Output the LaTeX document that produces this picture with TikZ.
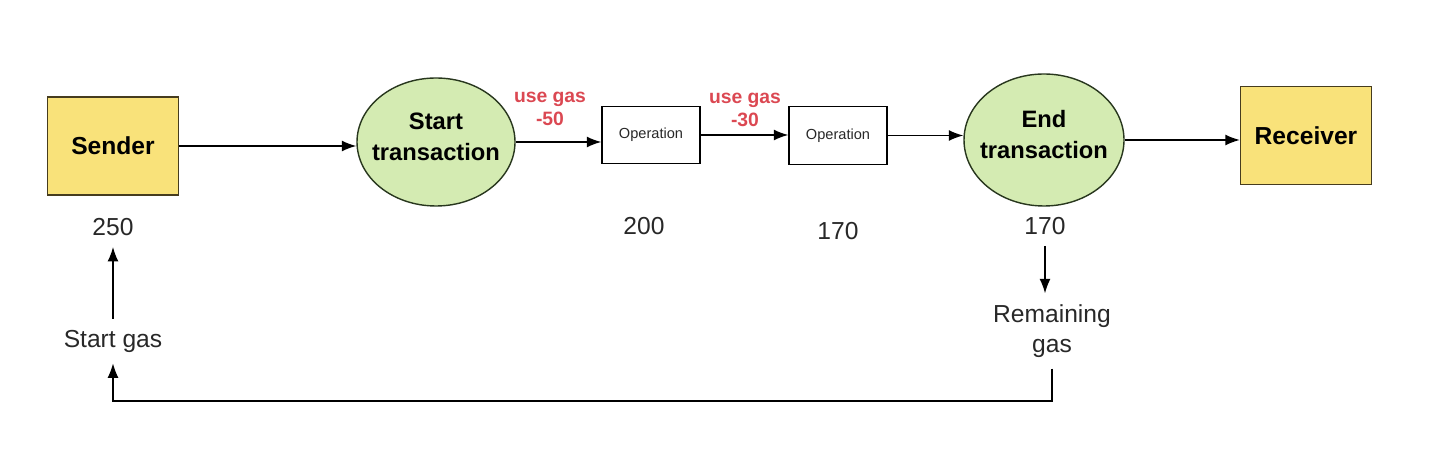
\documentclass[tikz,border=0pt]{standalone}
\usepackage{fontspec}
\setmainfont{Liberation Sans}
\usetikzlibrary{arrows,arrows.meta}
\usetikzlibrary{shapes.geometric}

\definecolor{partyyellow}{RGB}{249,226,122}
\definecolor{partyedge}{RGB}{70,60,30}
\definecolor{txgreen}{RGB}{212,235,178}
\definecolor{txedge}{RGB}{40,55,30}
\definecolor{gasred}{RGB}{219,72,82}
\definecolor{numgray}{RGB}{40,40,40}

\begin{document}
\begin{tikzpicture}[>={Latex[length=2.9mm,width=2.2mm]}, line width=0.8pt,
  party/.style={draw=partyedge, fill=partyyellow, minimum width=2.62cm, minimum height=1.96cm,
    font=\fontsize{14}{16}\selectfont\bfseries},
  txstate/.style={draw=txedge, ellipse, fill=txgreen, inner sep=0pt},
  txlabel/.style={font=\fontsize{13.5}{17.5}\selectfont\bfseries, align=center, yshift=0.11cm},
  opbox/.style={draw, fill=white, minimum width=1.96cm, minimum height=1.15cm,
    font=\fontsize{8.3}{10}\selectfont, text=numgray},
  gaslabel/.style={font=\fontsize{11}{13.5}\selectfont\bfseries, text=gasred, align=center},
  amount/.style={font=\fontsize{14}{17}\selectfont, text=numgray, align=center, inner sep=6pt}]

  % Fix the size of the picture
  \useasboundingbox (0,0) rectangle (28.82,9.30);

  % Draw the sender and the receiver
  \node[party] (snd) at (2.26,6.38) {Sender};
  \node[party] (rcv) at (26.12,6.59) {Receiver};

  % Draw the start and end of the transaction
  \node[txstate, minimum width=3.16cm, minimum height=2.56cm,
    label={[txlabel]center:Start\\transaction}] (st) at (8.72,6.46) {};
  \node[txstate, minimum width=3.2cm, minimum height=2.64cm,
    label={[txlabel]center:End\\transaction}] (et) at (20.88,6.50) {};

  % Draw the operations
  \node[opbox] (op1) at (13.02,6.60) {Operation};
  \node[opbox] (op2) at (16.76,6.59) {Operation};

  % Gas used by each operation
  \node[gaslabel] (use1) at (11.00,7.12) {use gas\\-50};
  \node[gaslabel] (use2) at (14.90,7.10) {use gas\\-30};

  % Gas left after each step
  \node[amount] (g250) at (2.26,4.76) {250};
  \node[amount] (g200) at (12.88,4.78) {200};
  \node[amount] (g170a) at (16.76,4.68) {170};
  \node[amount] (g170b) at (20.90,4.78) {170};

  % Start gas and remaining gas
  \node[amount] (sg) at (2.26,2.48) {Start gas};
  \node[amount] (rg) at (21.04,2.68) {Remaining\\gas};
  \coordinate (loop) at (0,1.28);

  % Draw the flow of the transaction
  \draw[->] (snd.east) -- (snd.east -| st.west);
  \draw[->] (st.east) -- (st.east -| op1.west);
  \draw[->] (op1.east) -- (op1.east -| op2.west);
  \draw[->] (op2.east) -- (op2.east -| et.west);
  \draw[->] (et.east) -- (et.east -| rcv.west);

  % Draw the gas arrows
  \draw[->] (sg) -- (g250);
  \draw[->] (g170b) -- (g170b |- rg.north);
  \draw[->] (rg) -- (rg |- loop) -| (sg);

\end{tikzpicture}
\end{document}
